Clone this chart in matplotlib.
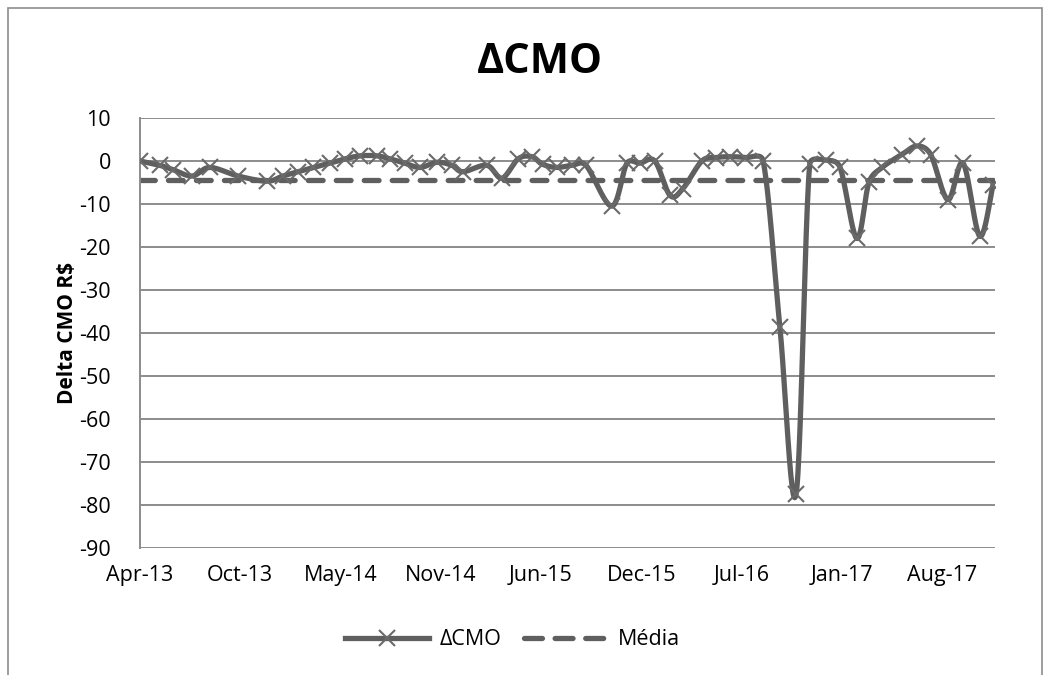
import numpy as np
import pandas as pd
import matplotlib
matplotlib.use('Agg')
import matplotlib.pyplot as plt
import matplotlib.dates as mdates
from matplotlib.patches import Rectangle

# Data
datas = ['2013-04-01', '2013-05-10', '2013-06-05', '2013-07-13', '2013-08-17',
         '2013-10-12', '2013-12-08', '2014-01-08', '2014-02-07', '2014-03-09',
         '2014-04-11', '2014-05-11', '2014-06-10', '2014-07-13', '2014-08-08',
         '2014-09-06', '2014-10-06', '2014-11-09', '2014-12-08', '2014-12-30',
         '2015-02-15', '2015-03-17', '2015-04-18', '2015-05-15', '2015-06-06',
         '2015-07-04', '2015-08-02', '2015-08-30', '2015-10-20', '2015-11-19',
         '2015-12-15', '2016-01-13', '2016-02-12', '2016-03-08', '2016-04-15',
         '2016-05-13', '2016-06-09', '2016-07-09', '2016-08-14', '2016-09-16',
         '2016-10-18', '2016-11-14', '2016-12-16', '2017-01-13', '2017-02-15',
         '2017-03-11', '2017-04-06', '2017-05-15', '2017-06-14', '2017-07-11',
         '2017-08-14', '2017-09-13', '2017-10-16', '2017-11-11']
delta_cmo = [0.0, -1.0, -2.0, -3.5, -1.5,
             -3.5, -4.7, -3.5, -2.5, -1.5,
             -0.5, 0.5, 1.2, 1.2, 0.5,
             -0.5, -1.5, -0.3, -1.0, -2.5,
             -1.0, -4.0, 0.5, 1.0, -0.8,
             -1.5, -1.0, -1.0, -10.5, -0.5,
             -0.5, 0.0, -8.0, -6.5, 0.0,
             0.8, 1.0, 0.8, 0.0, -38.5,
             -77.5, -0.8, 0.2, -1.5, -18.0,
             -5.0, -1.5, 1.5, 3.5, 1.5,
             -9.0, -0.5, -17.5, -5.5]
media = -4.4

y_ticks = list(range(10, -100, -10))
tick_inicio = '2013-04-01'
tick_passo_dias = 198
x_fim = '2017-11-15'

cinza = '#5f5f5f'

#smooth curve similar to excel: catmull-rom bezier in screen space,
#control points capped at half the segment length to limit overshoot
def suaviza(x, y, sx=0.5063, sy=4.3, n=24):
    P = np.column_stack([np.asarray(x, float)*sx, np.asarray(y, float)*sy])
    N = len(P)
    T = np.zeros_like(P)
    for i in range(N):
        a = P[max(i-1, 0)]
        b = P[min(i+1, N-1)]
        T[i] = (b - a)/6
    t = np.linspace(0, 1, n, endpoint=False)[:, None]
    pts = []
    for i in range(N-1):
        p0, p3 = P[i], P[i+1]
        L = np.hypot(*(p3-p0))
        t0 = T[i]*min(1, 0.5*L/max(np.hypot(*T[i]), 1e-9))
        t1 = T[i+1]*min(1, 0.5*L/max(np.hypot(*T[i+1]), 1e-9))
        p1 = p0 + t0
        p2 = p3 - t1
        seg = (1-t)**3*p0 + 3*(1-t)**2*t*p1 + 3*(1-t)*t**2*p2 + t**3*p3
        pts.append(seg)
    pts.append(P[-1][None, :])
    pts = np.vstack(pts)
    return pts[:, 0]/sx, pts[:, 1]/sy

plt.rcParams['font.family'] = ['Open Sans', 'DejaVu Sans']
plt.rcParams['axes.unicode_minus'] = False

fig = plt.figure(figsize=(10.51, 6.75), dpi=100)
ax = fig.add_axes([0.1332, 0.1881, 0.8135, 0.6371])

datas_dt = pd.to_datetime(datas)
xnum = mdates.date2num(datas_dt)
xs, ys = suaviza(xnum, delta_cmo)

ax.plot(xs, ys, color=cinza, lw=3.8, solid_capstyle='round', solid_joinstyle='round', zorder=3)
ax.plot(xnum, delta_cmo, ls='none', marker='x', ms=11, mew=1.5, color='#6a6a6a', zorder=4)
ax.plot(xnum, [media]*len(xnum), color=cinza, lw=3.8, dashes=(2.8, 2.5),
        dash_capstyle='round', zorder=2)

# legend proxies
h1, = ax.plot([], [], color=cinza, lw=3.8, marker='x', ms=11, mew=1.5, mec='#6a6a6a')
h2, = ax.plot([], [], color=cinza, lw=3.8, dashes=(3.4, 2.4), dash_capstyle='round')

ax.set_ylim(-90, 10)
ax.set_yticks(y_ticks)
ax.set_xlim(mdates.date2num(pd.Timestamp(tick_inicio)), mdates.date2num(pd.Timestamp(x_fim)))
ticks = [pd.Timestamp(tick_inicio) + pd.Timedelta(days=tick_passo_dias*i) for i in range(9)]
ax.set_xticks(mdates.date2num(ticks))
ax.xaxis.set_major_formatter(mdates.DateFormatter('%b-%y'))

ax.grid(axis='y', color='#8c8c8c', lw=1.4)
ax.set_axisbelow(True)
for s in ['top', 'right', 'bottom']:
    ax.spines[s].set_visible(False)
ax.spines['left'].set_color('#8c8c8c')
ax.spines['left'].set_linewidth(1.4)
ax.tick_params(axis='both', length=0, labelsize=15.5, colors='black')
ax.tick_params(axis='y', pad=21)
ax.tick_params(axis='x', pad=12)

ax.set_ylabel('Delta CMO R$', fontsize=15, fontweight='bold', labelpad=1)
fig.text(0.514, 0.908, 'ΔCMO', ha='center', va='center', fontsize=30, fontweight='bold')

fig.legend([h1, h2], ['ΔCMO', 'Média'], loc='center', bbox_to_anchor=(0.488, 0.052),
           ncol=2, frameon=False, fontsize=15.5, handlelength=3.9, columnspacing=1.0,
           handletextpad=0.5)

# chart border
fig.patches.append(Rectangle((8/1051, -0.02), 1034/1051, 1 - 8/675 + 0.02,
                             transform=fig.transFigure, fill=False,
                             edgecolor='#8c8c8c', lw=1.2))

fig.savefig('out.png', dpi=100)
